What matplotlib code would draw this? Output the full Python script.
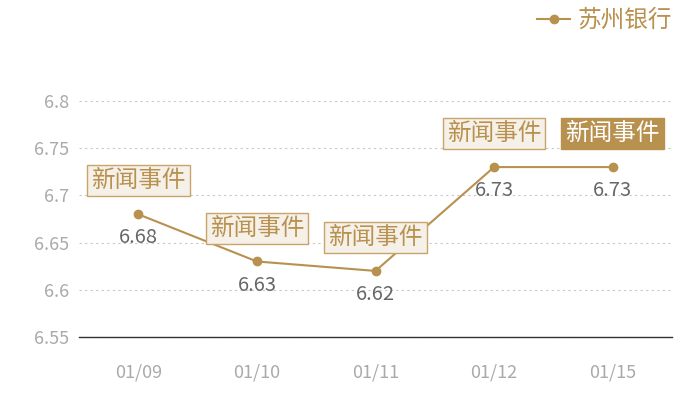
import matplotlib
matplotlib.use("Agg")
import matplotlib.pyplot as plt
from matplotlib.lines import Line2D

plt.rcParams['font.family'] = ['Noto Sans CJK SC', 'DejaVu Sans']

# --- datos ---
fechas = ['01/09', '01/10', '01/11', '01/12', '01/15']
precios = [6.68, 6.63, 6.62, 6.73, 6.73]
eventos = ['新闻事件', '新闻事件', '新闻事件', '新闻事件', '新闻事件']
evento_activo = 4
serie = '苏州银行'
yticks = [6.55, 6.6, 6.65, 6.7, 6.75, 6.8]
ytick_labels = ['6.55', '6.6', '6.65', '6.7', '6.75', '6.8']

ORO = '#b8914f'
GRIS = '#aaaaaa'

fig = plt.figure(figsize=(7, 4), dpi=100)
ax = fig.add_axes([79 / 700, 63 / 400, 593 / 700, 236 / 400])

x = list(range(len(fechas)))
ax.plot(x, precios, color=ORO, lw=1.5, marker='o', ms=6, zorder=3, clip_on=False)

ax.set_xlim(-0.5, len(fechas) - 0.5)
ax.set_ylim(6.55, 6.8)
ax.set_yticks(yticks)
ax.set_yticklabels(ytick_labels)
ax.set_xticks(x)
ax.set_xticklabels(fechas)
ax.tick_params(axis='y', length=0, pad=7, labelsize=13, labelcolor=GRIS)
ax.tick_params(axis='x', length=0, pad=19, labelsize=13, labelcolor=GRIS)

for s in ['top', 'right', 'left']:
    ax.spines[s].set_visible(False)
ax.spines['bottom'].set_color('#333333')
ax.spines['bottom'].set_linewidth(1)
ax.yaxis.grid(True, linestyle=(0, (2, 3)), color='#c8c8c8', lw=0.8)
ax.set_axisbelow(True)

for i, (v, ev) in enumerate(zip(precios, eventos)):
    ax.annotate(f'{v:.2f}', (i, v), xytext=(0, -17), textcoords='offset points',
                ha='center', va='center', fontsize=14.5, color='#666666')
    if i == evento_activo:
        caja = dict(boxstyle='square,pad=0.17', fc=ORO, ec=ORO, lw=1)
        col = 'white'
    else:
        caja = dict(boxstyle='square,pad=0.17', fc='#f5f0e8', ec='#c9a46a', lw=1)
        col = ORO
    ax.annotate(ev, (i, v), xytext=(0, 24), textcoords='offset points',
                ha='center', va='center', fontsize=17, color=col, bbox=caja,
                annotation_clip=False)

# leyenda arriba a la derecha
leg = fig.legend(handles=[Line2D([], [], color=ORO, lw=1.5, marker='o', ms=6)],
                 labels=[serie], loc='upper right', bbox_to_anchor=(0.99, 1.03),
                 frameon=False, fontsize=17, handlelength=1.4, handletextpad=0.3,
                 labelcolor=ORO)

fig.savefig('out.png', dpi=100)
